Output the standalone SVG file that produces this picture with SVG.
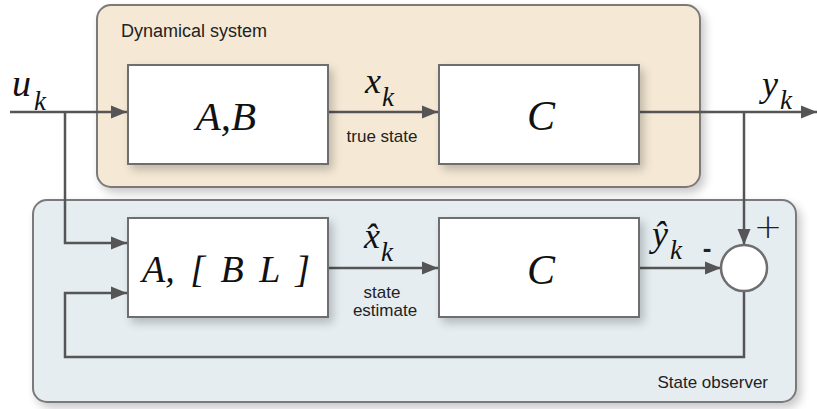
<svg xmlns="http://www.w3.org/2000/svg" width="817" height="409" viewBox="0 0 817 409">
  <defs>
    <filter id="shadow" x="-10%" y="-10%" width="125%" height="135%">
      <feGaussianBlur in="SourceAlpha" stdDeviation="5"/>
      <feOffset dx="4" dy="5" result="b"/>
      <feComponentTransfer><feFuncA type="linear" slope="0.22"/></feComponentTransfer>
      <feMerge><feMergeNode/><feMergeNode in="SourceGraphic"/></feMerge>
    </filter>
    <marker id="arrow" markerWidth="16" markerHeight="14" refX="16" refY="7" orient="auto" markerUnits="userSpaceOnUse" viewBox="0 0 16 14">
      <path d="M0,0.5 L16,7 L0,13.5 Z" fill="#555"/>
    </marker>
    <style>
      .sys { fill: #f5e9d5; stroke: #7a7a7a; stroke-width: 2; }
      .obs { fill: #e5edf1; stroke: #7a7a7a; stroke-width: 2; }
      .block { fill: #ffffff; stroke: #6e6e6e; stroke-width: 2; }
      .wire { fill: none; stroke: #555; stroke-width: 2.5; }
      .math { font-family: "Liberation Serif", "DejaVu Serif", serif; font-style: italic; fill: #111; }
      .sub { font-size: 27px; }
      .label { font-family: "Liberation Sans", Arial, sans-serif; font-size: 17px; fill: #222; }
    </style>
  </defs>

  <!-- containers -->
  <g id="dynamical-system">
    <rect class="sys" x="97" y="5" width="603" height="182" rx="14" filter="url(#shadow)"/>
    <text class="label" x="121" y="37" style="font-size:18px">Dynamical system</text>
  </g>
  <g id="state-observer">
    <rect class="obs" x="33" y="200" width="763" height="202" rx="14" filter="url(#shadow)"/>
    <text class="label" x="768" y="388" text-anchor="end">State observer</text>
  </g>

  <!-- connectors -->
  <g id="connectors">
    <path class="wire" d="M10,112 H127" marker-end="url(#arrow)"/>
    <path class="wire" d="M328,112 H438" marker-end="url(#arrow)"/>
    <path class="wire" d="M640,112 H817" marker-end="url(#arrow)"/>
    <path class="wire" d="M65,112 V243 H127" marker-end="url(#arrow)"/>
    <path class="wire" d="M328,268 H438" marker-end="url(#arrow)"/>
    <path class="wire" d="M744,112 V245" marker-end="url(#arrow)"/>
    <path class="wire" d="M640,268 H721" marker-end="url(#arrow)"/>
    <path class="wire" d="M744,291 V357 H65 V293 H127" marker-end="url(#arrow)"/>
  </g>

  <!-- plant blocks -->
  <g id="plant-AB">
    <rect class="block" x="128" y="65" width="200" height="99" filter="url(#shadow)"/>
    <text class="math" x="226" y="130" font-size="41" text-anchor="middle">A,B</text>
  </g>
  <g id="plant-C">
    <rect class="block" x="439" y="65" width="200" height="99" filter="url(#shadow)"/>
    <text class="math" x="541" y="130" font-size="42" text-anchor="middle">C</text>
  </g>

  <!-- observer blocks -->
  <g id="observer-ABL">
    <rect class="block" x="128" y="218" width="200" height="99" filter="url(#shadow)"/>
    <text class="math" x="226" y="282" font-size="38" text-anchor="middle" word-spacing="6" xml:space="preserve">A, [ B L ]</text>
  </g>
  <g id="observer-C">
    <rect class="block" x="439" y="218" width="200" height="99" filter="url(#shadow)"/>
    <text class="math" x="541" y="284" font-size="42" text-anchor="middle">C</text>
  </g>

  <!-- summing junction -->
  <g id="sum">
    <circle cx="744" cy="268" r="23" fill="#fff" stroke="#6e6e6e" stroke-width="2.5"/>
    <text x="768" y="238" font-family="'DejaVu Sans', sans-serif" font-weight="200" font-size="34" fill="#222" text-anchor="middle">+</text>
    <text x="707" y="257" font-family="'Liberation Sans', Arial, sans-serif" font-size="26" font-weight="bold" fill="#222" text-anchor="middle">-</text>
  </g>

  <!-- signal labels -->
  <g id="signal-labels">
    <text class="math" x="12" y="96" font-size="38">u<tspan class="sub" x="34" y="110">k</tspan></text>
    <text class="math" x="365" y="93" font-size="36">x<tspan class="sub" x="382" y="106">k</tspan></text>
    <text class="label" x="382" y="142" text-anchor="middle">true state</text>
    <text class="math" x="762" y="96" font-size="36">y<tspan class="sub" x="780" y="109">k</tspan></text>
    <text class="math" x="364" y="248" font-size="36">x̂<tspan class="sub" x="381" y="261">k</tspan></text>
    <text class="label" x="382" y="298" text-anchor="middle">state</text>
    <text class="label" x="385" y="316" text-anchor="middle">estimate</text>
    <text class="math" x="652" y="246" font-size="36">ŷ<tspan class="sub" x="670" y="259">k</tspan></text>
  </g>
</svg>
